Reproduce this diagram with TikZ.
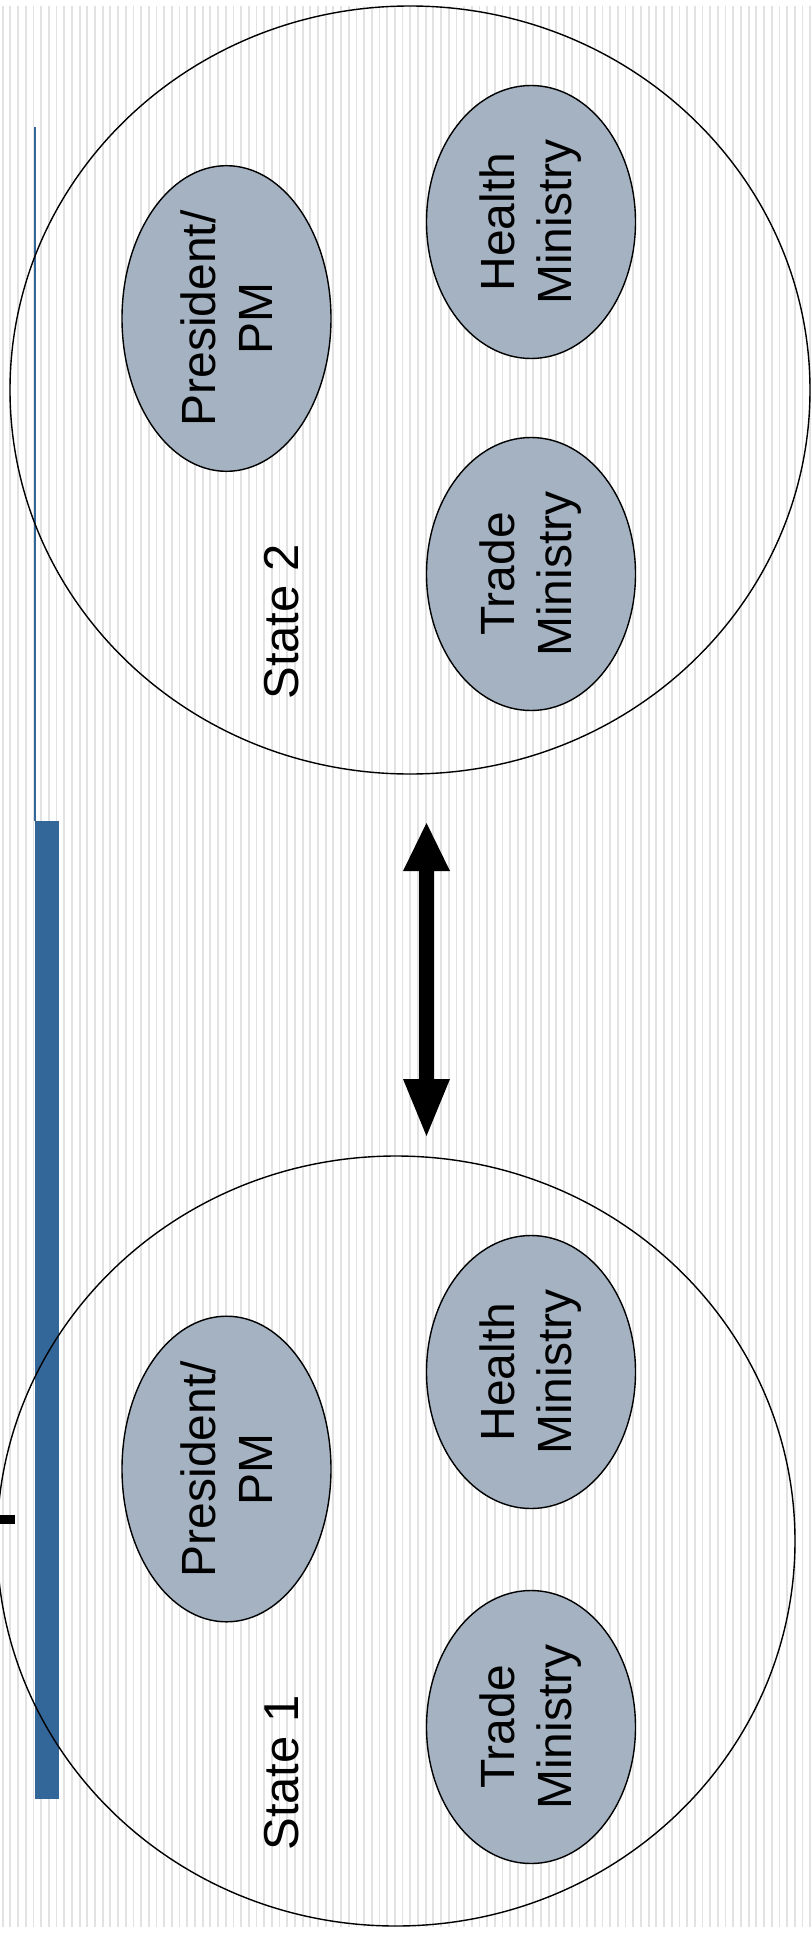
\documentclass[tikz,border=0pt]{standalone}
\usepackage{fontspec}
\setmainfont{Liberation Sans}
\usetikzlibrary{shapes.geometric}
\definecolor{slideblue}{RGB}{51,102,153}
\definecolor{ovalgray}{RGB}{164,178,193}
\definecolor{stripegray}{RGB}{226,226,226}

\begin{document}
\begin{tikzpicture}[x=0.5pt, y=-0.5pt,
  statering/.style = {ellipse, draw=black, line width=0.7pt, inner sep=0pt},
  office/.style = {ellipse, draw=black, line width=0.7pt, fill=ovalgray,
    inner sep=0pt, rotate=90, align=center,
    minimum width=136.5pt, minimum height=104.5pt,
    font=\fontsize{24}{28.5}\selectfont},
  statelabel/.style = {rotate=90, inner sep=0pt,
    font=\fontsize{24.5}{29}\selectfont}
  ]
  \useasboundingbox (0,0) rectangle (811,1937);
  % striped background
  \foreach \k in {0,...,105}
    \fill[stripegray] ({2.7+7.69*\k-0.9},6) rectangle +(1.8,1921);
  % blue rule on the left
  \fill[slideblue] (34.3,127) rectangle (35.8,821);
  \fill[slideblue] (35,821) rectangle (59,1799);
  \fill[black] (0,1515) rectangle (15,1524);
  % state 2
  \node[statering, minimum width=400pt, minimum height=384pt] (state2) at (410,390) {};
  \node[office] (pm2) at (226.5,318.5) {President/\\PM};
  \node[office] (health2) at (531,222) {Health\\Ministry};
  \node[office] (trade2) at (531,574) {Trade\\Ministry};
  \node[statelabel] (label2) at (282,622) {State 2};
  % state 1
  \node[statering, minimum width=399pt, minimum height=385pt] (state1) at (396,1541) {};
  \node[office] (pm1) at (226.5,1469) {President/\\PM};
  \node[office] (health1) at (531,1372) {Health\\Ministry};
  \node[office] (trade1) at (531,1727) {Trade\\Ministry};
  \node[statelabel] (label1) at (282,1773) {State 1};
  % two-way arrow between the states
  \fill[black] (426.5,823) -- (450,871) -- (434,871) -- (434,1079) -- (450,1079)
    -- (426.5,1136) -- (403,1079) -- (419,1079) -- (419,871) -- (403,871) -- cycle;
\end{tikzpicture}
\end{document}
